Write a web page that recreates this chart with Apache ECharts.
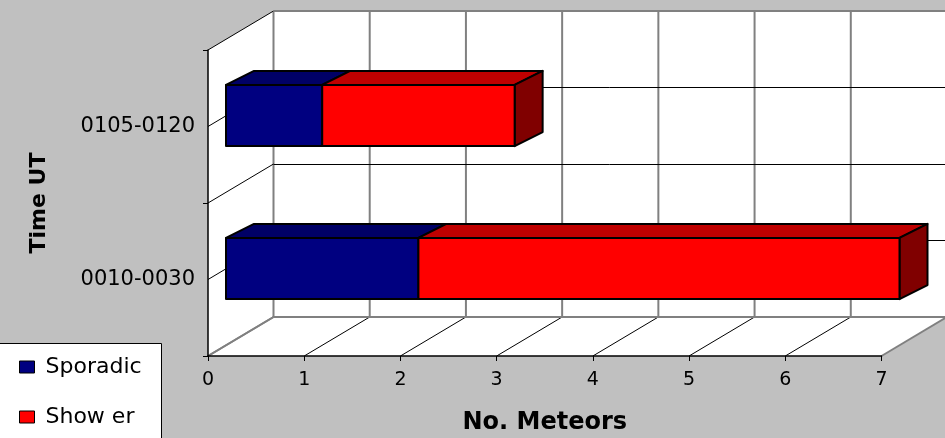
<!DOCTYPE html>
<html>
<head>
<meta charset="utf-8">
<script src="https://cdn.jsdelivr.net/npm/echarts@6/dist/echarts.min.js"></script>
<style>
  html, body { margin: 0; padding: 0; background: #c0c0c0; }
  #main { width: 945px; height: 438px; }
</style>
</head>
<body>
<div id="main"></div>
<script>
// data
var categories = ['0010-0030', '0105-0120'];   // bottom to top
var sporadic = [2, 1];
var shower = [5, 2];
var xTicks = [0, 1, 2, 3, 4, 5, 6, 7];
var seriesNames = ['Sporadic', 'Show er'];

// 3d look
var DEPTH = [65.5, -39];      // back wall offset
var BAR_OFF = [18, -11];      // bar front face offset
var BAR_DEPTH = [28, -14];    // bar thickness
var FONT = 'DejaVu Sans';

function crisp(v) { return Math.round(v - 0.5) + 0.5; }

function wallsItem(params, api) {
    var x = function (v) { return api.coord([v, 0])[0]; };
    var band = api.size([0, 1])[1];
    var yC = function (i) { return api.coord([0, i])[1]; };
    var yTop = yC(categories.length - 1) - band / 2;
    var yBot = yC(0) + band / 2;
    var xL = x(xTicks[0]), xR = x(xTicks[xTicks.length - 1]);
    var dx = DEPTH[0], dy = DEPTH[1];
    var gray = '#808080';
    var kids = [];
    function line(x1, y1, x2, y2, c, w) {
        kids.push({ type: 'line', shape: { x1: x1, y1: y1, x2: x2, y2: y2 },
            style: { stroke: c, lineWidth: w } });
    }
    // back wall, left wall, floor
    kids.push({ type: 'polygon', shape: { points: [[xL + dx, yTop + dy], [xR + dx, yTop + dy], [xR + dx, yBot + dy], [xL + dx, yBot + dy]] },
        style: { fill: '#fff' } });
    kids.push({ type: 'polygon', shape: { points: [[xL, yTop], [xL + dx, yTop + dy], [xL + dx, yBot + dy], [xL, yBot]] },
        style: { fill: '#fff' } });
    kids.push({ type: 'polygon', shape: { points: [[xL, yBot], [xR, yBot], [xR + dx, yBot + dy], [xL + dx, yBot + dy]] },
        style: { fill: '#fff' } });
    // vertical grid on back wall and lines on floor
    xTicks.forEach(function (t, k) {
        var xx = x(t);
        line(xx + dx, yTop + dy, xx + dx, yBot + dy, gray, 2);
        var edge = (k === 0 || k === xTicks.length - 1);
        line(xx, yBot, xx + dx, yBot + dy, edge ? gray : '#000', edge ? 2 : 1);
    });
    // category lines on left wall + back wall
    var ys = [yTop];
    for (var i = categories.length - 1; i >= 0; i--) {
        ys.push(yC(i));
        ys.push(yC(i) + band / 2);
    }
    ys.forEach(function (yy, j) {
        var last = j === ys.length - 1;
        line(xL, yy, xL + dx, yy + dy, last ? gray : '#000', last ? 2 : 1);
        var edge = (j === 0 || last);
        var yb = edge ? yy + dy : crisp(yy + dy);
        line(xL + dx, yb, xR + dx, yb, edge ? gray : '#000', edge ? 2 : 1);
    });
    return { type: 'group', children: kids };
}

function barItem(base, front, top, side) {
    return function (params, api) {
        var v = api.value(0), i = api.value(1);
        var b = base ? base[i] : 0;
        var p0 = api.coord([b, i]);
        var p1 = api.coord([b + v, i]);
        var h = api.size([0, 1])[1] * 0.4;
        var x0 = p0[0] + BAR_OFF[0], x1 = p1[0] + BAR_OFF[0];
        var yt = p0[1] + BAR_OFF[1] - h / 2, yb = yt + h;
        var ddx = BAR_DEPTH[0], ddy = BAR_DEPTH[1];
        var edge = { stroke: '#000', lineWidth: 2, lineJoin: 'round' };
        var kids = [];
        kids.push({ type: 'polygon', shape: { points: [[x0, yt], [x1, yt], [x1 + ddx, yt + ddy], [x0 + ddx, yt + ddy]] },
            style: Object.assign({ fill: top }, edge) });
        if (side) {
            kids.push({ type: 'polygon', shape: { points: [[x1, yt], [x1 + ddx, yt + ddy], [x1 + ddx, yb + ddy], [x1, yb]] },
                style: Object.assign({ fill: side }, edge) });
        }
        kids.push({ type: 'rect', shape: { x: x0, y: yt, width: x1 - x0, height: h },
            style: Object.assign({ fill: front }, edge) });
        return { type: 'group', children: kids };
    };
}

var chart = echarts.init(document.getElementById('main'));
chart.setOption({
    backgroundColor: '#c0c0c0',
    animation: false,
    textStyle: { fontFamily: FONT },
    grid: { left: 208, right: 63.5, top: 50, bottom: 82, outerBoundsMode: 'none', containLabel: false },
    // legend frame
    graphic: [{
        type: 'rect',
        left: -1,
        top: 343,
        z: 50,
        shape: { width: 162, height: 110 },
        style: { fill: '#fff', stroke: '#000', lineWidth: 1 }
    }],
    legend: {
        data: seriesNames,
        orient: 'vertical',
        left: -1,
        top: 343,
        z: 60,
        padding: [13, 20, 4, 20],
        itemGap: 28,
        itemWidth: 15,
        itemHeight: 12,
        icon: 'rect',
        textStyle: { fontFamily: FONT, fontSize: 22, color: '#000', lineHeight: 22, padding: [0, 0, 0, 6] },
        itemStyle: { borderColor: '#000', borderWidth: 1 }
    },
    xAxis: {
        type: 'value',
        min: xTicks[0],
        max: xTicks[xTicks.length - 1],
        interval: 1,
        z: 5,
        name: 'No. Meteors',
        nameLocation: 'middle',
        nameGap: 55,
        nameTextStyle: { fontFamily: FONT, fontSize: 24, fontWeight: 'bold', color: '#000' },
        axisLine: { show: true, lineStyle: { color: '#000', width: 1.5 } },
        axisTick: { show: true, length: 5, lineStyle: { color: '#000' } },
        axisLabel: { margin: 15, fontFamily: FONT, fontSize: 19, color: '#000' },
        splitLine: { show: false }
    },
    yAxis: {
        type: 'category',
        data: categories,
        z: 5,
        name: 'Time UT',
        nameLocation: 'middle',
        nameRotate: 90,
        nameGap: 158,
        nameTextStyle: { fontFamily: FONT, fontSize: 22, fontWeight: 'bold', color: '#000' },
        axisLine: { show: true, lineStyle: { color: '#000', width: 1.5 } },
        axisTick: { show: true, length: 5, lineStyle: { color: '#000' } },
        axisLabel: { margin: 13, fontFamily: FONT, fontSize: 21, color: '#000' },
        splitLine: { show: false }
    },
    series: [
        {
            type: 'custom',
            name: 'walls',
            silent: true,
            z: 1,
            clip: false,
            renderItem: wallsItem,
            data: [[0, 0]]
        },
        {
            type: 'custom',
            name: seriesNames[0],
            z: 3,
            clip: false,
            itemStyle: { color: '#000080' },
            renderItem: barItem(null, '#000080', '#000066', null),
            data: sporadic.map(function (v, i) { return [v, i]; })
        },
        {
            type: 'custom',
            name: seriesNames[1],
            z: 3,
            clip: false,
            itemStyle: { color: '#ff0000' },
            renderItem: barItem(sporadic, '#ff0000', '#bf0000', '#800000'),
            data: shower.map(function (v, i) { return [v, i]; })
        }
    ]
});
</script>
</body>
</html>
